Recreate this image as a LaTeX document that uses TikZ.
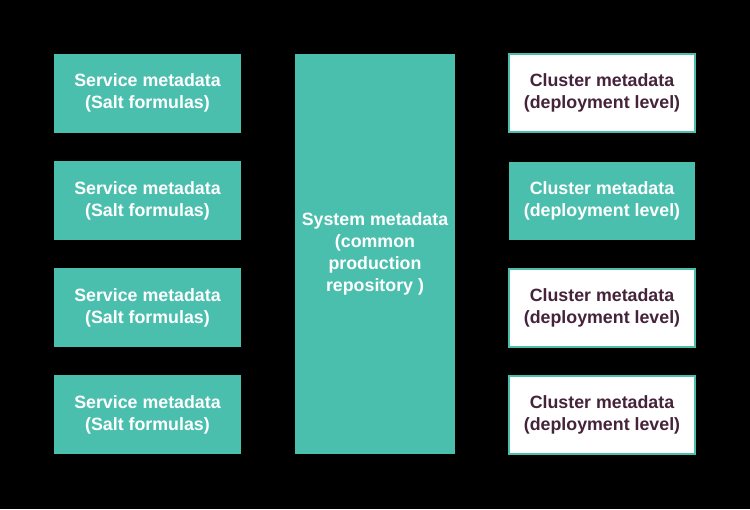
\documentclass[tikz,border=0pt]{standalone}
\usepackage{fontspec}
\setmainfont{Liberation Sans}
\usepackage{tikz}
\definecolor{tealbox}{HTML}{4BBFAE}
\definecolor{plumtext}{HTML}{45233A}
\tikzset{
  metabox/.style   = {rectangle,fill=tealbox,text=white,font=\bfseries\fontsize{17.8}{22}\selectfont,align=center,inner sep=0pt},
  servicebox/.style = {metabox,minimum width=187pt,minimum height=79pt},
  clusterbox/.style = {metabox,minimum width=186pt,minimum height=78pt},
  openbox/.style   = {clusterbox,fill=white,draw=tealbox,line width=2pt,text=plumtext}
}
\begin{document}
\begin{tikzpicture}[x=1pt,y=-1pt]
  \fill[black] (0,0) rectangle (750,509);
  \useasboundingbox (0,0) rectangle (750,509);
  \foreach \n/\y in {1/93,2/200.5,3/307.5,4/414.5} {
    \node[servicebox] (service\n) at (147.5,\y) {Service metadata\\(Salt formulas)};
  }
  \node[metabox,minimum width=160pt,minimum height=400pt] (system) at (375,254)
    {System metadata\\(common\\production\\repository )};
  \node[openbox]    (cluster1) at (602,93)    {Cluster metadata\\(deployment level)};
  \node[clusterbox] (cluster2) at (602,200.5) {Cluster metadata\\(deployment level)};
  \node[openbox]    (cluster3) at (602,307.5) {Cluster metadata\\(deployment level)};
  \node[openbox]    (cluster4) at (602,414.5) {Cluster metadata\\(deployment level)};
\end{tikzpicture}
\end{document}
